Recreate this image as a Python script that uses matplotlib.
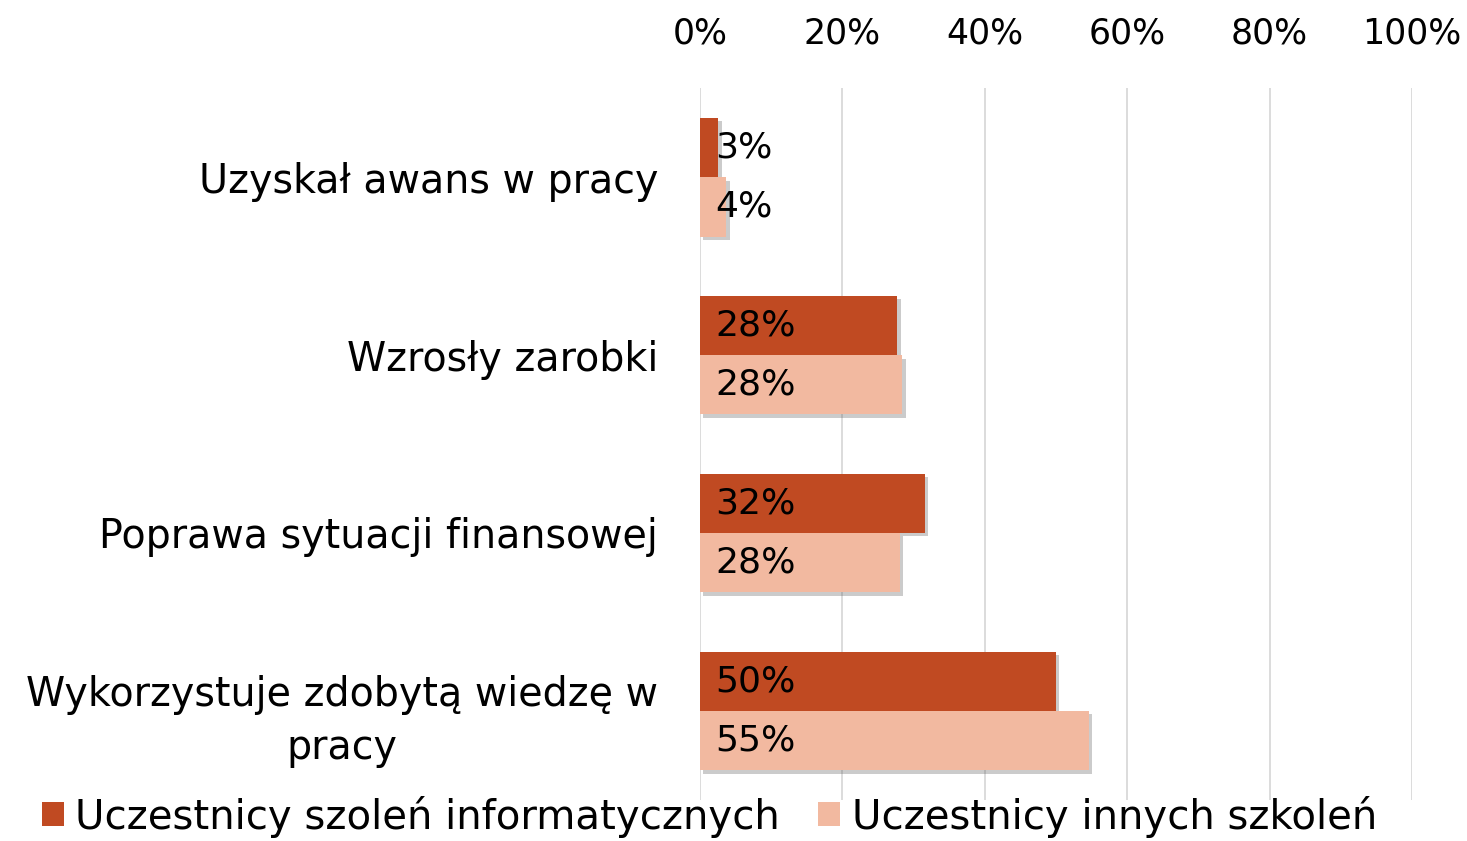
import matplotlib
matplotlib.use('Agg')
import matplotlib.pyplot as plt
import matplotlib.patheffects as pe
from matplotlib.patches import Patch
import numpy as np

categories = ['Uzyskał awans w pracy', 'Wzrosły zarobki', 'Poprawa sytuacji finansowej',
              'Wykorzystuje zdobytą wiedzę w\npracy']
it_values = [2.6, 27.7, 31.6, 50.0]
other_values = [3.7, 28.4, 28.1, 54.6]
series_names = ['Uczestnicy szoleń informatycznych', 'Uczestnicy innych szkoleń']
xticks = [0, 20, 40, 60, 80, 100]

dark = '#C04A22'
light = '#F2B9A0'

plt.rcParams['font.family'] = ['DejaVu Sans']
fig = plt.figure(figsize=(14.67, 8.41), dpi=100)
ax = fig.add_axes([0.477, 0.049, 0.4855, 0.846])

y = np.arange(len(categories))
h = 1 / 3
shadow = [pe.SimplePatchShadow(offset=(2.5, -2.5), alpha=0.3, shadow_rgbFace='#555555'), pe.Normal()]
b1 = ax.barh(y - h / 2, it_values, height=h, color=dark, zorder=3)
b2 = ax.barh(y + h / 2, other_values, height=h, color=light, zorder=3)
for bars in (b1, b2):
    for p in bars:
        p.set_path_effects(shadow)

for vals, pos in ((it_values, y - h / 2), (other_values, y + h / 2)):
    for v, yy in zip(vals, pos):
        ax.annotate('%.0f%%' % v, (0, yy), xytext=(11, 0), textcoords='offset points',
                    ha='left', va='center', fontsize=26, color='black', zorder=4)

ax.set_xlim(0, 100)
ax.set_ylim(3.5, -0.5)
ax.set_xticks(xticks)
ax.set_xticklabels(['%d%%' % t for t in xticks])
ax.xaxis.tick_top()
ax.tick_params(axis='x', length=0, pad=27, labelsize=25)
ax.set_yticks(y)
ax.set_yticklabels(categories, fontsize=28.5, linespacing=1.4)
for lbl in ax.get_yticklabels():
    lbl.set_multialignment('center')
ax.tick_params(axis='y', length=0, pad=30)
ax.grid(axis='x', color='#D9D9D9', linewidth=1.3, zorder=0)
for s in ax.spines.values():
    s.set_visible(False)

handles = [Patch(facecolor=dark), Patch(facecolor=light)]
fig.legend(handles=handles, labels=series_names, loc='center left', bbox_to_anchor=(0.0285, 0.029),
           ncol=2, frameon=False, fontsize=29, handlelength=0.55, handleheight=0.55,
           handletextpad=0.28, columnspacing=0.95, borderaxespad=0, borderpad=0)

fig.savefig('out.png', dpi=100)
